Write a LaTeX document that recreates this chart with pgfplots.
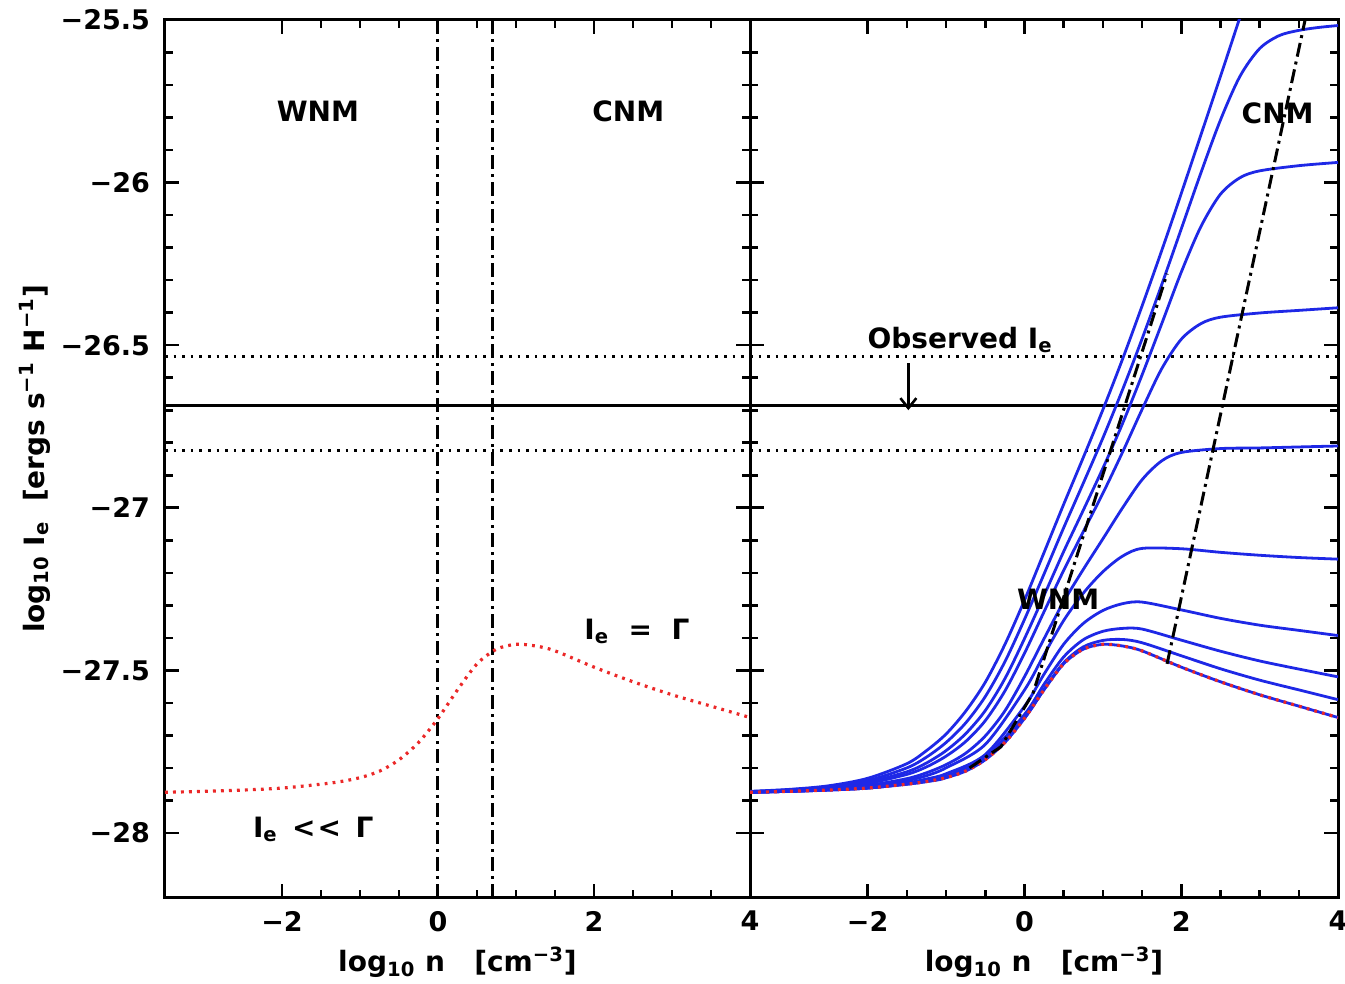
\documentclass[border=0pt]{standalone}
\usepackage{fontspec}
\setmainfont{DejaVu Sans}
\usepackage{pgfplots}
\pgfplotsset{compat=1.18}
\usetikzlibrary{arrows.meta}
\definecolor{cblue}{RGB}{30,40,230}
\definecolor{cred}{RGB}{235,40,40}
\pgfplotsset{
  panel/.style={scale only axis, height=439pt,
    xmin=-3.5, xmax=4, ymin=-28.2, ymax=-25.5,
    xtick={-2,0,2,4}, xticklabels={−2,0,2,4},
    minor x tick num=3,
    ytick={-28,-27.5,-27,-26.5,-26,-25.5},
    minor y tick num=4,
    major tick length=7pt, minor tick length=3.8pt,
    axis line style={line width=1.5pt},
    every tick/.style={black, line width=1.3pt},
    tick label style={font=\fontsize{13.5}{15}\selectfont\bfseries},
    xticklabel style={yshift=-3pt},
    yticklabel style={xshift=-4pt},
    anchor=south west},
  dashdot/.style={black, line width=1.5pt, dash pattern=on 7pt off 2.5pt on 1.5pt off 2.5pt},
  dotl/.style={black, line width=1.4pt, dash pattern=on 1.3pt off 3pt},
  bl/.style={cblue, line width=1.4pt, smooth},
  rd/.style={cred, line width=1.6pt, dash pattern=on 1.4pt off 2.6pt, smooth},
}
\newcommand{\lab}{\fontsize{14}{16}\selectfont\bfseries}
\begin{document}
\begin{tikzpicture}
% ---------------- left panel ----------------
\begin{axis}[panel, width=292.5pt, at={(0pt,0pt)},
  yticklabels={−28,−27.5,−27,−26.5,−26,−25.5}]
\addplot[dotl] coordinates {(-3.5,-26.535) (4,-26.535)};
\addplot[dotl] coordinates {(-3.5,-26.825) (4,-26.825)};
\addplot[black, line width=1.4pt] coordinates {(-3.5,-26.685) (4,-26.685)};
\addplot[dashdot] coordinates {(0,-28.2) (0,-25.5)};
\addplot[dashdot] coordinates {(0.7,-28.2) (0.7,-25.5)};
\addplot[rd] coordinates {(-3.5,-27.875) (-3,-27.872) (-2.5,-27.868) (-2,-27.862) (-1.5,-27.85) (-1.25,-27.842) (-1,-27.83) (-0.75,-27.81) (-0.5,-27.775) (-0.25,-27.722) (0,-27.648) (0.25,-27.56) (0.5,-27.48) (0.75,-27.435) (1,-27.42) (1.25,-27.425) (1.5,-27.44) (2,-27.49) (2.5,-27.535) (3,-27.575) (3.5,-27.61) (4,-27.645)};
\node[font=\lab] at (axis cs:-1.54,-25.78) {WNM};
\node[font=\lab] at (axis cs:2.44,-25.78) {CNM};
\node[font=\lab] at (axis cs:2.55,-27.38) {I\textsubscript{e} \ = \ Γ};
\node[font=\lab] at (axis cs:-1.6,-27.99) {I\textsubscript{e}\, <\kern1pt<\, Γ};
\end{axis}
% ---------------- right panel ----------------
\begin{axis}[panel, width=294pt, at={(292.5pt,0pt)}, yticklabels={}]
\addplot[dotl] coordinates {(-3.5,-26.535) (4,-26.535)};
\addplot[dotl] coordinates {(-3.5,-26.825) (4,-26.825)};
\addplot[black, line width=1.4pt] coordinates {(-3.5,-26.685) (4,-26.685)};
% c1 (= Gamma)
\addplot[bl] coordinates {(-3.5,-27.875) (-3,-27.872) (-2.5,-27.868) (-2,-27.862) (-1.5,-27.85) (-1.25,-27.842) (-1,-27.83) (-0.75,-27.81) (-0.5,-27.775) (-0.25,-27.722) (0,-27.648) (0.25,-27.56) (0.5,-27.48) (0.75,-27.435) (1,-27.42) (1.25,-27.425) (1.5,-27.44) (2,-27.49) (2.5,-27.535) (3,-27.575) (3.5,-27.61) (4,-27.645)};
% c2
\addplot[bl] coordinates {(-3.5,-27.875) (-3,-27.872) (-2.5,-27.868) (-2,-27.862) (-1.5,-27.85) (-1.25,-27.842) (-1,-27.83) (-0.5,-27.774) (0,-27.647) (0.25,-27.558) (0.5,-27.477) (0.75,-27.428) (1,-27.408) (1.25,-27.405) (1.5,-27.415) (2,-27.455) (2.5,-27.495) (3,-27.53) (3.5,-27.56) (4,-27.59)};
% c3
\addplot[bl] coordinates {(-3.5,-27.875) (-3,-27.872) (-2.5,-27.868) (-2,-27.862) (-1.5,-27.849) (-1.25,-27.839) (-1,-27.826) (-0.5,-27.766) (0,-27.636) (0.25,-27.543) (0.5,-27.459) (0.75,-27.406) (1,-27.38) (1.25,-27.371) (1.5,-27.373) (2,-27.407) (2.5,-27.441) (3,-27.471) (3.5,-27.496) (4,-27.52)};
% c4
\addplot[bl] coordinates {(-3.5,-27.875) (-3,-27.872) (-2.5,-27.867) (-2,-27.86) (-1.5,-27.846) (-1.25,-27.834) (-1,-27.818) (-0.5,-27.759) (0,-27.611) (0.25,-27.512) (0.5,-27.42) (0.75,-27.356) (1,-27.316) (1.25,-27.295) (1.5,-27.29) (2,-27.314) (2.5,-27.34) (3,-27.361) (3.5,-27.377) (4,-27.393)};
% c5
\addplot[bl] coordinates {(-3.5,-27.875) (-3,-27.871) (-2.5,-27.866) (-2,-27.857) (-1.5,-27.839) (-1.25,-27.824) (-1,-27.80) (-0.5,-27.728) (0,-27.561) (0.25,-27.452) (0.5,-27.347) (0.75,-27.263) (1,-27.197) (1.25,-27.149) (1.5,-27.125) (2,-27.126) (2.5,-27.137) (3,-27.146) (3.5,-27.153) (4,-27.158)};
% c6
\addplot[bl] coordinates {(-3.5,-27.874) (-3,-27.87) (-2.5,-27.865) (-2,-27.854) (-1.5,-27.833) (-1.25,-27.815) (-1,-27.79) (-0.75,-27.755) (-0.5,-27.702) (-0.25,-27.625) (0,-27.52) (0.25,-27.403) (0.5,-27.289) (0.75,-27.19) (1,-27.096) (1.25,-27.001) (1.5,-26.914) (1.75,-26.856) (2,-26.83) (2.5,-26.818) (3,-26.816) (3.5,-26.813) (4,-26.81)};
% c7
\addplot[bl] coordinates {(-3.5,-27.873) (-3,-27.869) (-2.5,-27.862) (-2,-27.848) (-1.5,-27.82) (-1.25,-27.797) (-1,-27.764) (-0.75,-27.719) (-0.5,-27.655) (-0.25,-27.564) (0,-27.448) (0.25,-27.32) (0.5,-27.193) (0.75,-27.074) (1,-26.956) (1.25,-26.83) (1.5,-26.698) (1.75,-26.573) (2,-26.482) (2.25,-26.434) (2.5,-26.414) (3,-26.401) (3.5,-26.393) (4,-26.385)};
% c8
\addplot[bl] coordinates {(-3.5,-27.874) (-3,-27.869) (-2.5,-27.86) (-2,-27.844) (-1.5,-27.812) (-1.25,-27.785) (-1,-27.747) (-0.75,-27.695) (-0.5,-27.624) (-0.25,-27.526) (0,-27.403) (0.25,-27.27) (0.5,-27.135) (0.75,-27.008) (1,-26.879) (1.25,-26.742) (1.5,-26.592) (1.75,-26.435) (2,-26.276) (2.25,-26.136) (2.5,-26.036) (2.75,-25.985) (3,-25.964) (3.5,-25.948) (4,-25.938)};
% c9
\addplot[bl] coordinates {(-3.5,-27.873) (-3,-27.867) (-2.5,-27.858) (-2,-27.839) (-1.5,-27.80) (-1.25,-27.767) (-1,-27.722) (-0.75,-27.662) (-0.5,-27.581) (-0.25,-27.474) (0,-27.344) (0.25,-27.204) (0.5,-27.062) (0.75,-26.925) (1,-26.786) (1.25,-26.638) (1.5,-26.481) (1.75,-26.315) (2,-26.143) (2.25,-25.971) (2.5,-25.808) (2.75,-25.673) (3,-25.588) (3.25,-25.548) (3.5,-25.532) (3.75,-25.523) (4,-25.517)};
% c10
\addplot[bl] coordinates {(-3.5,-27.872) (-3,-27.866) (-2.5,-27.855) (-2,-27.832) (-1.5,-27.787) (-1.25,-27.747) (-1,-27.696) (-0.75,-27.626) (-0.5,-27.537) (-0.25,-27.421) (0,-27.285) (0.25,-27.138) (0.5,-26.99) (0.75,-26.846) (1,-26.699) (1.25,-26.544) (1.5,-26.38) (1.75,-26.21) (2,-26.034) (2.5,-25.674) (2.75,-25.491) (3,-25.308)};
% Gamma overlay
\addplot[rd] coordinates {(-3.5,-27.875) (-3,-27.872) (-2.5,-27.868) (-2,-27.862) (-1.5,-27.85) (-1.25,-27.842) (-1,-27.83) (-0.75,-27.81) (-0.5,-27.775) (-0.25,-27.722) (0,-27.648) (0.25,-27.56) (0.5,-27.48) (0.75,-27.435) (1,-27.42) (1.25,-27.425) (1.5,-27.44) (2,-27.49) (2.5,-27.535) (3,-27.575) (3.5,-27.61) (4,-27.645)};
% loci
\addplot[dashdot] coordinates {(-0.7,-27.80) (-0.3,-27.735) (0.11,-27.57) (0.7,-27.125) (1.31,-26.665) (1.82,-26.28)};
\addplot[dashdot] coordinates {(1.82,-27.48) (3.58,-25.5)};
\addplot[black, line width=1.3pt, -{Straight Barb[length=5pt,width=8pt,line width=1.3pt]}] coordinates {(-1.48,-26.555) (-1.48,-26.70)};
\node[font=\lab] at (axis cs:0.43,-27.28) {WNM};
\node[font=\lab] at (axis cs:3.23,-25.786) {CNM};
\node[font=\lab] at (axis cs:-0.82,-26.485) {Observed I\textsubscript{e}};
\end{axis}
\node[font=\lab] at (146.25pt,-32pt) {log\textsubscript{10} n \ \ [cm\textsuperscript{−3}]};
\node[font=\lab] at (439.5pt,-32pt) {log\textsubscript{10} n \ \ [cm\textsuperscript{−3}]};
\node[font=\lab, rotate=90] at (-65pt,219.5pt) {log\textsubscript{10} I\textsubscript{e} \ [ergs s\textsuperscript{−1} H\textsuperscript{−1}]};
\pgfresetboundingbox
\path[use as bounding box] (-82.5pt,-43pt) rectangle (590pt,449pt);
\end{tikzpicture}
\end{document}
